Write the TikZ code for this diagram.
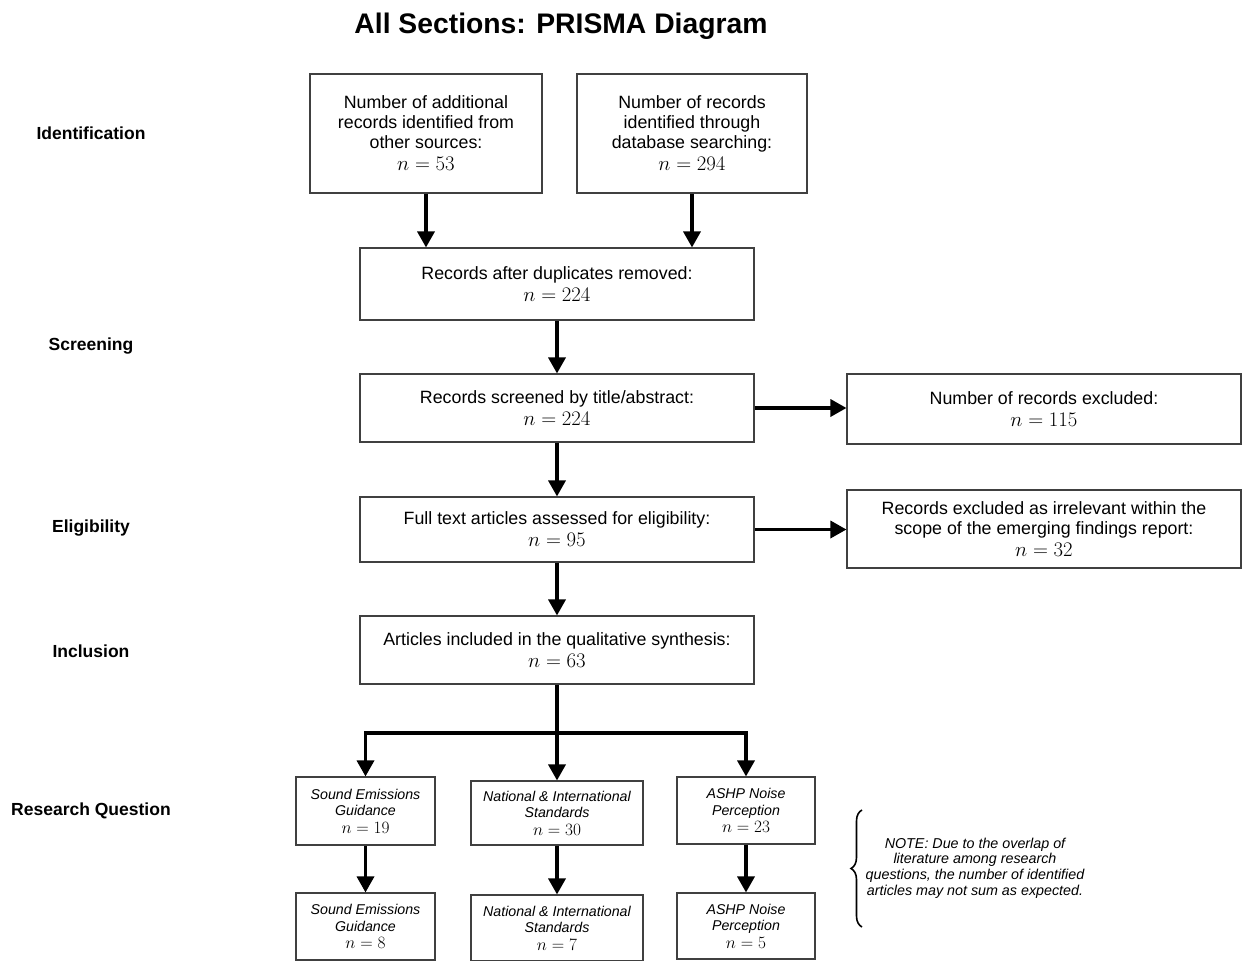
\documentclass[tikz,border=0pt]{standalone}
\usepackage{fontspec}
\setmainfont{Liberation Sans}
\usetikzlibrary{arrows.meta,decorations.pathreplacing}

% count line with a larger math n
\newcommand{\nval}[2][20.74]{{\fontsize{#1}{#1}\selectfont$n = #2$}}

\begin{document}
\begin{tikzpicture}[x=1pt,y=-1pt,
  box/.style={draw=black!75, line width=1.1pt, align=center, inner sep=0pt,
              font=\fontsize{17.8}{20}\selectfont},
  rq/.style={box, font=\fontsize{14.2}{16.5}\selectfont\itshape},
  arr/.style={line width=3.4pt, -{Triangle[length=16pt,width=17pt]}},
  stem/.style={line width=3.4pt},
  phase/.style={font=\fontsize{17.5}{20}\selectfont\bfseries},
]
\useasboundingbox (0,0) rectangle (1243,961);

% title
\node[font=\fontsize{28.3}{32}\selectfont\bfseries] (title) at (561,26) {All Sections: PRISMA Diagram};

% phase labels
\node[phase] (ident) at (91,133) {Identification};
\node[phase] (scrn)  at (91,346) {Screening};
\node[phase] (elig)  at (91,528) {Eligibility};
\node[phase] (inclu) at (91,651) {Inclusion};
\node[phase] (resq)  at (91,811) {Research Question};

% main flow
\node[box, minimum width=232pt, minimum height=119pt] (add) at (426,133.5)
  {Number of additional\\records identified from\\other sources:\\[2pt]\nval{53}};
\node[box, minimum width=230pt, minimum height=119pt] (db) at (692,133.5)
  {Number of records\\identified through\\database searching:\\[2pt]\nval{294}};
\node[box, minimum width=394pt, minimum height=72pt] (dup) at (557,284)
  {Records after duplicates removed:\\[2pt]\nval{224}};
\node[box, minimum width=394pt, minimum height=68pt] (scr) at (557,408)
  {Records screened by title/abstract:\\[2pt]\nval{224}};
\node[box, minimum width=394pt, minimum height=70pt] (excl1) at (1044,409)
  {Number of records excluded:\\[2pt]\nval{115}};
\node[box, minimum width=394pt, minimum height=65pt] (full) at (557,529.5)
  {Full text articles assessed for eligibility:\\[2pt]\nval{95}};
\node[box, minimum width=394pt, minimum height=78pt] (excl2) at (1044,529)
  {Records excluded as irrelevant within the\\scope of the emerging findings report:\\[2pt]\nval{32}};
\node[box, minimum width=394pt, minimum height=68pt] (incl) at (557,650)
  {Articles included in the qualitative synthesis:\\[2pt]\nval{63}};

% research question boxes
\node[rq, minimum width=139pt, minimum height=68pt] (rq1) at (365.5,811)
  {Sound Emissions\\Guidance\\[1pt]\upshape\nval[17.28]{19}};
\node[rq, minimum width=172pt, minimum height=64pt] (rq2) at (557,813)
  {National \& International\\Standards\\[1pt]\upshape\nval[17.28]{30}};
\node[rq, minimum width=138pt, minimum height=67pt] (rq3) at (746,810.5)
  {ASHP Noise\\Perception\\[1pt]\upshape\nval[17.28]{23}};
\node[rq, minimum width=139pt, minimum height=67pt] (out1) at (365.5,926.5)
  {Sound Emissions\\Guidance\\[1pt]\upshape\nval[17.28]{8}};
\node[rq, minimum width=172pt, minimum height=66pt] (out2) at (557,928)
  {National \& International\\Standards\\[1pt]\upshape\nval[17.28]{7}};
\node[rq, minimum width=138pt, minimum height=66pt] (out3) at (746,926)
  {ASHP Noise\\Perception\\[1pt]\upshape\nval[17.28]{5}};

% note with brace
\node[align=center, font=\fontsize{14.3}{15.8}\selectfont\itshape] (note) at (975,868)
  {NOTE: Due to the overlap of\\literature among research\\questions, the number of identified\\articles may not sum as expected.};
\draw[line width=1.6pt, decorate, decoration={brace, amplitude=11pt}]
  (862,927) -- (862,810);

% connectors
\draw[arr] (add) -- (add |- dup.north);
\draw[arr] (db) -- (db |- dup.north);
\draw[arr] (dup) -- (scr);
\draw[arr] (scr.east) -- (scr.east -| excl1.west);
\draw[arr] (scr) -- (full);
\draw[arr] (full.east) -- (full.east -| excl2.west);
\draw[arr] (full) -- (incl);

\coordinate (split) at (557,733);
\draw[stem] (incl) -- (split);
\draw[arr] (split) -| (rq1.north);
\draw[arr] (split) -- (rq2.north);
\draw[arr] (split) -| (rq3.north);

\draw[arr] (rq1) -- (out1);
\draw[arr] (rq2) -- (out2);
\draw[arr] (rq3) -- (out3);
\end{tikzpicture}
\end{document}
